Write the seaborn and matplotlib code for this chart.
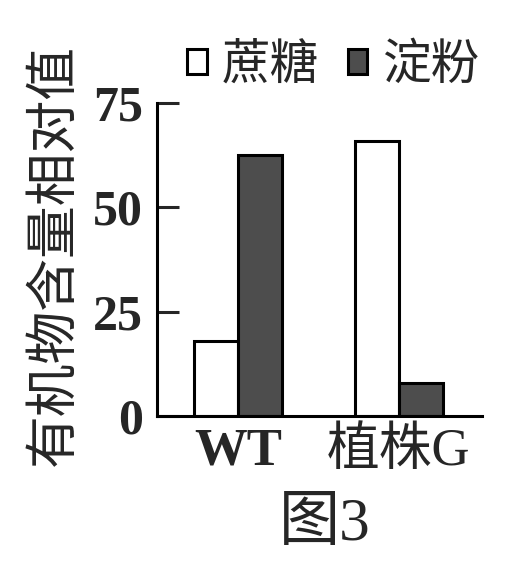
import seaborn as sns
import pandas as pd
import matplotlib.pyplot as plt

# Values
groups = ["WT", "植株G"]
sugars = ["蔗糖", "淀粉"]
sucrose = [18, 66]
starch = [62.5, 8]
y_ticks = [0, 25, 50, 75]


def main():
    df = pd.DataFrame({
        "group": groups * 2,
        "kind": [sugars[0]] * 2 + [sugars[1]] * 2,
        "value": sucrose + starch,
    })

    sns.set_style("white")
    plt.rcParams['font.family'] = ['Liberation Serif', 'Noto Sans CJK SC', 'DejaVu Sans']

    fig = plt.figure(figsize=(5.15, 5.69), dpi=100)
    ax = fig.add_axes([0.305, 0.269, 0.631, 0.550])

    sns.barplot(data=df, x="group", y="value", hue="kind", ax=ax,
                palette=["white", "#4d4d4d"], width=0.546, gap=0,
                edgecolor="black", linewidth=2.2, saturation=1)

    ax.set_ylim(0, 75)
    ax.set_xlim(-0.503, 1.516)
    ax.set_yticks(y_ticks)
    ax.set_yticklabels([str(t) for t in y_ticks], fontsize=36, fontweight="bold")
    ax.set_xticks(range(len(groups)))
    ax.set_xticklabels(groups, fontsize=38)
    ax.get_xticklabels()[0].set_fontweight("bold")
    ax.tick_params(axis="y", direction="in", length=16, width=2.2, pad=10, left=True)
    ax.tick_params(axis="x", length=0, pad=8)
    ax.set_xlabel("")
    ax.set_ylabel("")

    sns.despine(ax=ax, top=True, right=True)
    for s in ["left", "bottom"]:
        ax.spines[s].set_linewidth(2.2)
        ax.spines[s].set_color("black")

    fig.text(0.107, 0.552, "有机物含量相对值", rotation=90, fontsize=38,
             ha="center", va="center")
    fig.text(0.63, 0.077, "图3", fontsize=44, ha="center", va="center")

    handles, labels = ax.get_legend_handles_labels()
    ax.legend(handles, labels, ncol=2, frameon=False, fontsize=35,
              handlelength=0.4, handleheight=0.4, handletextpad=0.3,
              columnspacing=0.6, loc="center", bbox_to_anchor=(0.647, 0.884),
              bbox_transform=fig.transFigure, borderaxespad=0)

    fig.savefig("out.png", dpi=100)


if __name__ == "__main__":
    main()
